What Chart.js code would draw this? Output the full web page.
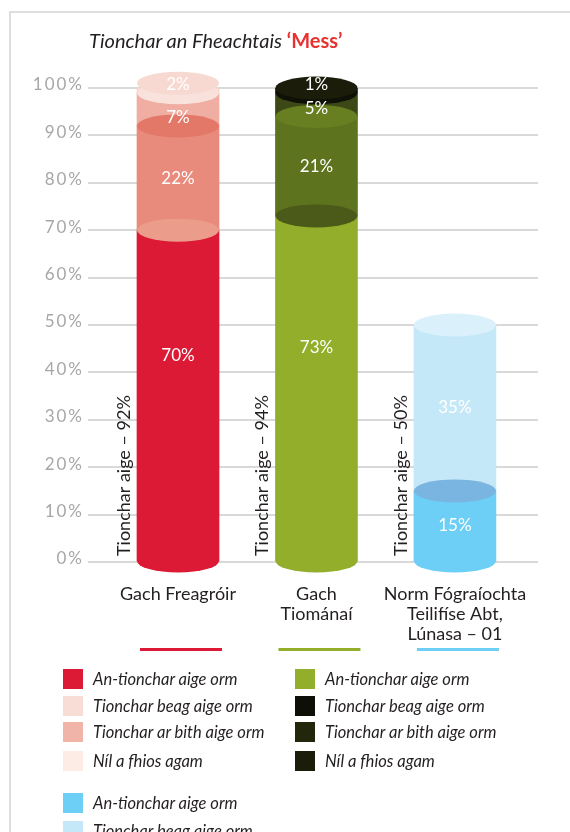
<!DOCTYPE html>
<html>
<head>
<meta charset="utf-8">
<script src="https://cdn.jsdelivr.net/npm/chart.js@4"></script>
<style>
body{margin:0;background:#fff;width:570px;height:832px;overflow:hidden;position:relative;font-family:Lato,sans-serif;color:#231f20}
#frame{position:absolute;left:9px;top:11px;width:600px;height:900px;border-left:2px solid #dedede;border-top:2px solid #dedede}
canvas{position:absolute;left:0;top:0}
#title{position:absolute;left:89px;top:28px;font-size:20px;font-style:italic;line-height:24px;white-space:nowrap}
#title b{color:#e8322e;font-style:normal}
.key{position:absolute;font-style:italic;font-size:16.5px;height:20px;line-height:20px;white-space:nowrap}
.key span{display:inline-block;width:20px;height:20px;vertical-align:top;margin-right:10px}
</style>
</head>
<body>
<div id="frame"></div>
<canvas id="chart" width="570" height="832"></canvas>
<div id="title">Tionchar an Fheachtais <b>‘Mess’</b></div>
<div id="legend"></div>
<script>

/* DATA */

const categories = [
  ["Gach Freagróir"],
  ["Gach", "Tiománaí"],
  ["Norm Fógraíochta", "Teilifíse Abt,", "Lúnasa – 01"]
];
const layerNames = ["An-tionchar aige orm", "Tionchar beag aige orm", "Tionchar ar bith aige orm", "Níl a fhios agam"];

const bigImpact   = [70, 73, 15];
const smallImpact = [22, 21, 35];
const noImpact    = [7, 5, null];
const dontKnow    = [2, 1, null];

const yTicks = [0, 10, 20, 30, 40, 50, 60, 70, 80, 90, 100];

/* COLOURS: one row per layer, one entry per bar */

const bodyColors = [
  ["#dc1a35", "#93ae2a", "#6dcff6"],
  ["#e88a7c", "#5e731e", "#c5e8f8"],
  ["#efaea1", "#3d4817", null],
  ["#f6d5cc", "#1b1d0a", null]
];
const faceColors = [
  ["#eb9c8b", "#4b5a19", "#7ab4e0"],
  ["#e47868", "#677f21", "#daf0fb"],
  ["#f9e2db", "#0f1106", null],
  ["#f7d9d1", "#1b1d0a", null]
];
const legendRed   = ["#dc1a35", "#f7ddd6", "#f0b5a8", "#fdebe6"];
const legendGreen = ["#93ae2a", "#0e0f06", "#22270b", "#1b1c09"];
const legendBlue  = ["#6dcff6", "#c5e8f8"];


/* LEGEND */

function addKeys(colors, left, tops){
  colors.forEach((c, i) => {
    let d = document.createElement("div");
    d.className = "key";
    d.style.left = left + "px";
    d.style.top = tops[i] + "px";
    d.innerHTML = '<span style="background:' + c + '"></span>' + layerNames[i];
    document.getElementById("legend").appendChild(d);
  });
}
addKeys(legendRed, 63, [669, 696, 722, 751]);
addKeys(legendGreen, 295, [669, 696, 722, 751]);
addKeys(legendBlue, 63, [793, 821]);


/* CHART */

function ellipse(ctx, x, y, rx, ry, color){
  if(!color) return;
  ctx.fillStyle = color;
  ctx.beginPath();
  ctx.ellipse(x, y, rx, ry, 0, 0, Math.PI * 2);
  ctx.fill();
}

const cylinders = {
  id: "cylinders",
  beforeDraw(chart){ chart.ctx.letterSpacing = "2px"; },
  beforeDatasetsDraw(chart){ chart.ctx.letterSpacing = "0px"; },
  afterDatasetsDraw(chart){
    const ctx = chart.ctx;
    ctx.save();

    // bottom of each cylinder
    chart.getDatasetMeta(0).data.forEach((bar, i) => {
      ellipse(ctx, bar.x, bar.base, bar.width / 2, bar.width * 0.14, bodyColors[0][i]);
    });

    // top face of every segment
    chart.data.datasets.forEach((ds, d) => {
      chart.getDatasetMeta(d).data.forEach((bar, j) => {
        const i = ds.data[j].x - 1;
        ellipse(ctx, bar.x, bar.y, bar.width / 2, bar.width * 0.14, faceColors[d][i]);
      });
    });

    // value labels
    ctx.font = "17px Lato";
    ctx.fillStyle = "#fff";
    ctx.textAlign = "center";
    ctx.textBaseline = "middle";
    chart.data.datasets.forEach((ds, d) => {
      chart.getDatasetMeta(d).data.forEach((bar, j) => {
        const v = ds.data[j].y;
        let y;
        if(v < 10) y = bar.base - bar.width * 0.1;   // thin slices: label sits on the face below
        else y = bar.base + (bar.y - bar.base) * (v > 50 ? 0.62 : 0.5);
        ctx.fillText(v + "%", bar.x, y);
      });
    });

    // "Tionchar aige" totals + coloured underlines
    ctx.font = "18px Lato";
    ctx.fillStyle = "#231f20";
    ctx.textAlign = "left";
    chart.getDatasetMeta(0).data.forEach((bar, i) => {
      const total = bigImpact[i] + smallImpact[i];
      ctx.save();
      ctx.translate(bar.x - bar.width / 2 - 13, bar.base - 5);
      ctx.rotate(-Math.PI / 2);
      ctx.fillText("Tionchar aige – " + total + "%", 0, 0);
      ctx.restore();

      ctx.fillStyle = bodyColors[0][i];
      ctx.fillRect(bar.x - bar.width / 2 + 3, chart.chartArea.bottom + 86, bar.width, 3);
      ctx.fillStyle = "#231f20";
    });

    ctx.restore();
  }
};

function layer(values, d){
  return {
    label: layerNames[d],
    data: values.map((v, i) => ({x: i + 1, y: v})).filter(p => p.y !== null),
    backgroundColor: c => bodyColors[d][c.raw.x - 1],
    borderWidth: 0,
    barThickness: 82
  };
}

Chart.defaults.font.family = "Lato";

new Chart(document.getElementById("chart"), {
  type: "bar",
  data: {
    datasets: [
      layer(bigImpact, 0),
      layer(smallImpact, 1),
      layer(noImpact, 2),
      layer(dontKnow, 3)
    ]
  },
  options: {
    responsive: false,
    animation: false,
    layout: {padding: {top: 88, right: 32, bottom: 0, left: 0}},
    plugins: {legend: {display: false}, tooltip: {enabled: false}},
    scales: {
      x: {
        type: "linear",
        offset: false,
        stacked: true,
        min: 0.35,
        max: 3.6,
        afterBuildTicks: s => { s.ticks = categories.map((c, i) => ({value: i + 1})); },
        afterFit: s => { s.height = 270; },
        grid: {display: false},
        border: {display: false},
        ticks: {
          z: 1,
          padding: 14,
          autoSkip: false,
          maxRotation: 0,
          color: "#231f20",
          font: {size: 18, lineHeight: 1.12},
          callback: v => categories[v - 1]
        }
      },
      y: {
        stacked: true,
        min: 0,
        max: 100,
        afterBuildTicks: s => { s.ticks = yTicks.map(v => ({value: v})); },
        afterFit: s => { s.width = 88; },
        grid: {color: "#d9d9d9", lineWidth: 2, drawTicks: false},
        border: {display: false},
        ticks: {
          padding: 4,
          labelOffset: -3,
          color: "#a7a7a7",
          font: {size: 17},
          callback: v => v + "%"
        }
      }
    }
  },
  plugins: [cylinders]
});

</script>
</body>
</html>
